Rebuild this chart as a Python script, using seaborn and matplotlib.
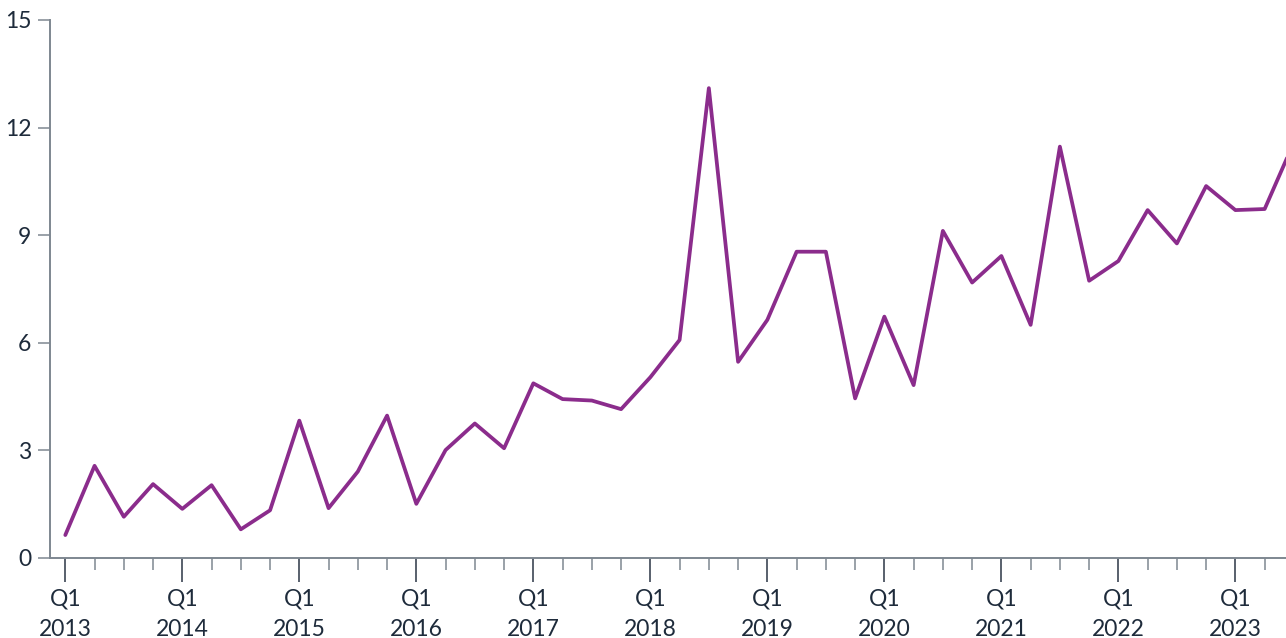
import matplotlib
matplotlib.use("Agg")
import matplotlib.pyplot as plt
import seaborn as sns
import pandas as pd

# ---- data ----
quarters = ["2013 Q1", "2013 Q2", "2013 Q3", "2013 Q4",
            "2014 Q1", "2014 Q2", "2014 Q3", "2014 Q4",
            "2015 Q1", "2015 Q2", "2015 Q3", "2015 Q4",
            "2016 Q1", "2016 Q2", "2016 Q3", "2016 Q4",
            "2017 Q1", "2017 Q2", "2017 Q3", "2017 Q4",
            "2018 Q1", "2018 Q2", "2018 Q3", "2018 Q4",
            "2019 Q1", "2019 Q2", "2019 Q3", "2019 Q4",
            "2020 Q1", "2020 Q2", "2020 Q3", "2020 Q4",
            "2021 Q1", "2021 Q2", "2021 Q3", "2021 Q4",
            "2022 Q1", "2022 Q2", "2022 Q3", "2022 Q4",
            "2023 Q1", "2023 Q2", "2023 Q3"]
values = [0.64, 2.57, 1.15, 2.06,
          1.37, 2.03, 0.80, 1.33,
          3.83, 1.39, 2.41, 3.97,
          1.51, 3.01, 3.75, 3.06,
          4.87, 4.43, 4.39, 4.15,
          5.04, 6.08, 13.10, 5.47,
          6.64, 8.54, 8.54, 4.45,
          6.73, 4.82, 9.12, 7.68,
          8.42, 6.50, 11.47, 7.73,
          8.28, 9.70, 8.77, 10.37,
          9.70, 9.73, 11.59]
year_labels = ["Q1\n2013", "Q1\n2014", "Q1\n2015", "Q1\n2016", "Q1\n2017",
               "Q1\n2018", "Q1\n2019", "Q1\n2020", "Q1\n2021", "Q1\n2022",
               "Q1\n2023"]
y_ticks = [0, 3, 6, 9, 12, 15]

sns.set_style("white")
plt.rcParams["font.family"] = ["Lato", "DejaVu Sans"]

line_color = "#8B2C8C"
axis_color = "#7E8791"
text_color = "#1E2B3B"

fig = plt.figure(figsize=(12.86, 6.38), dpi=100)
ax = fig.add_axes([50 / 1286, 80 / 638, 1 - 50 / 1286, 538 / 638])

df = pd.DataFrame({"idx": range(len(values)), "value": values})
sns.lineplot(data=df, x="idx", y="value", ax=ax, color=line_color,
             linewidth=2.7)

x_right = 41.73
major = [i for i in range(len(values)) if i % 4 == 0]
minor = [i for i in range(len(values)) if i % 4 != 0 and i <= x_right]
ax.set_xticks(major)
ax.set_xticklabels(year_labels[:len(major)])
ax.set_xticks(minor, minor=True)
ax.set_yticks(y_ticks)
ax.set_yticklabels([str(v) for v in y_ticks])

ax.set_xlim(-0.523, x_right)
ax.set_ylim(0, 15)

ax.set_xlabel("")
ax.set_ylabel("")

for side in ["top", "right"]:
    ax.spines[side].set_visible(False)
for side in ["left", "bottom"]:
    ax.spines[side].set_color(axis_color)
    ax.spines[side].set_linewidth(1.4)

ax.tick_params(axis="x", which="both", bottom=True)
ax.tick_params(axis="y", which="both", left=True)
ax.tick_params(axis="x", which="major", length=17, width=1.1, color="#2B3645",
               labelsize=16.5, labelcolor=text_color, pad=5)
ax.tick_params(axis="x", which="minor", length=8.5, width=1.1, color=axis_color)
ax.tick_params(axis="y", which="major", length=8.5, width=1.1, color=axis_color,
               labelsize=16.5, labelcolor=text_color, pad=5)
for lbl in ax.get_xticklabels():
    lbl.set_linespacing(1.55)

fig.savefig("out.png", dpi=100)
